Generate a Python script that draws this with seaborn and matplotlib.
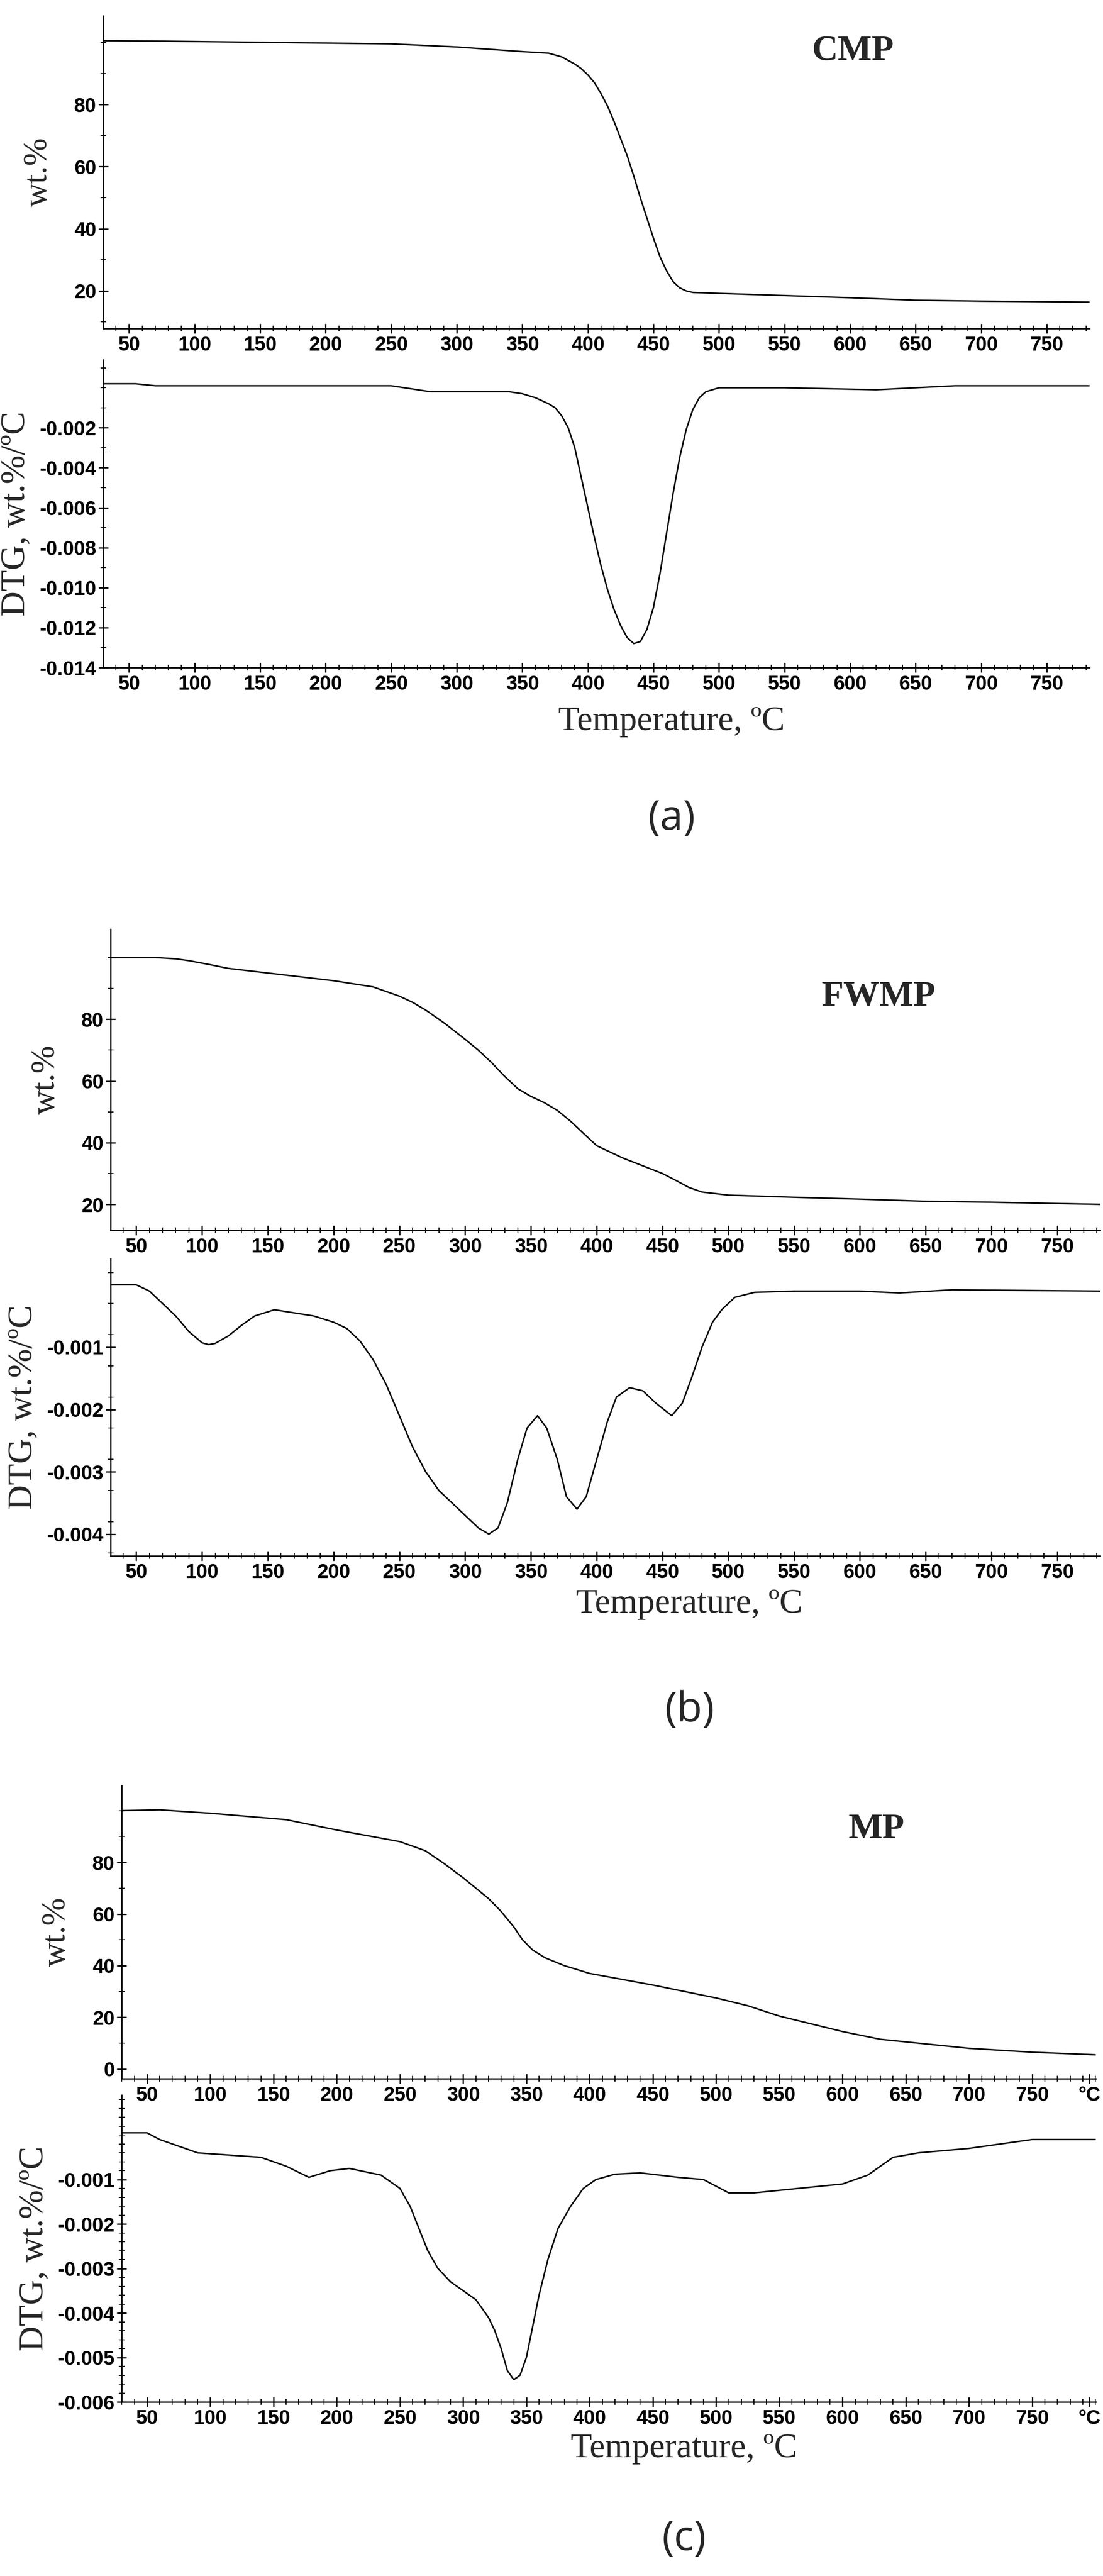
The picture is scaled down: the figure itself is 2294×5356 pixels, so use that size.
import numpy as np
import pandas as pd
import matplotlib
matplotlib.use("Agg")
import matplotlib.pyplot as plt
import seaborn as sns
from matplotlib.ticker import MultipleLocator, FixedLocator

sns.set_theme(style="ticks")
plt.rcParams['font.family'] = ['Liberation Sans', 'DejaVu Sans']

# ---- data ----
cmp_wt_T = [30, 70, 150, 250, 300, 350, 370, 380, 390, 395, 400, 405, 410, 415, 420, 425, 430, 435, 440, 445, 450, 455,
            460, 465, 470, 475, 480, 500, 550, 600, 650, 700, 783]
cmp_wt_v = [100.5, 100.4, 100, 99.5, 98.5, 97, 96.5, 95.3, 93, 91.5, 89.5, 87, 83.5, 79.5, 74.5, 69, 63.5, 57, 50, 43.5, 37, 31,
            26.5, 23, 21, 20, 19.5, 19.2, 18.5, 17.8, 17, 16.7, 16.4]
cmp_dtg_T = [30, 55, 70, 250, 280, 340, 350, 360, 370, 375, 380, 385, 390, 395, 400, 405, 410, 415, 420, 425, 430, 435, 440,
             445, 450, 455, 460, 465, 470, 475, 480, 485, 490, 500, 550, 620, 680, 783]
cmp_dtg_v = [0.0002, 0.0002, 0.0001, 0.0001, -0.0002, -0.0002, -0.0003, -0.0005, -0.0008, -0.001, -0.0014, -0.002, -0.003,
             -0.0045, -0.006, -0.0075, -0.0089, -0.0101, -0.0111, -0.0119, -0.0125, -0.0128, -0.0127, -0.0121, -0.011,
             -0.0093, -0.0073, -0.0053, -0.0035, -0.0021, -0.0011, -0.0005, -0.0002, 0.0, 0.0, -0.0001, 0.0001, 0.0001]

fw_wt_T = [30, 65, 80, 90, 105, 120, 150, 200, 230, 250, 260, 270, 285, 300, 310, 320, 330, 340, 350, 360, 370, 380, 390, 400,
           410, 420, 435, 450, 460, 470, 480, 500, 550, 600, 650, 700, 783]
fw_wt_v = [100, 100, 99.6, 99, 97.8, 96.5, 95, 92.5, 90.5, 87.5, 85.5, 83, 78.5, 73.5, 70, 66, 61.5, 57.5, 55, 53, 50.5, 47,
           43, 39, 37, 35, 32.5, 30, 27.8, 25.5, 24, 23, 22.3, 21.7, 21, 20.7, 20]
fw_dtg_T = [30, 50, 60, 70, 80, 90, 100, 105, 110, 120, 130, 140, 155, 170, 185, 200, 210, 220, 230, 240, 250, 260, 270, 280,
            290, 300, 310, 318, 325, 332, 340, 347, 355, 362, 370, 377, 385, 392, 400, 408, 415, 425, 435, 445, 457, 465,
            472, 480, 488, 495, 505, 520, 550, 600, 630, 670, 783]
fw_dtg_v = [0, 0, -0.0001, -0.0003, -0.0005, -0.00075, -0.00093, -0.00096, -0.00094, -0.00082, -0.00065, -0.0005, -0.0004,
            -0.00045, -0.0005, -0.0006, -0.0007, -0.0009, -0.0012, -0.0016, -0.0021, -0.0026, -0.003, -0.0033, -0.0035,
            -0.0037, -0.0039, -0.004, -0.0039, -0.0035, -0.0028, -0.0023, -0.0021, -0.0023, -0.0028, -0.0034, -0.0036,
            -0.0034, -0.0028, -0.0022, -0.0018, -0.00165, -0.0017, -0.0019, -0.0021, -0.0019, -0.0015, -0.001, -0.0006,
            -0.0004, -0.0002, -0.00012, -0.0001, -0.0001, -0.00013, -0.00008, -0.0001]

mp_wt_T = [30, 60, 100, 160, 200, 250, 270, 285, 300, 310, 320, 330, 340, 347, 355, 365, 380, 400, 450, 500, 525, 550, 575,
           600, 630, 700, 750, 800]
mp_wt_v = [100, 100.3, 99, 96.5, 92.5, 88, 84.5, 79.5, 74, 70, 66, 61, 55, 50, 46, 43, 40, 37, 32.5, 27.5, 24.5, 20.5, 17.5,
           14.5, 11.5, 8, 6.5, 5.5]
mp_dtg_T = [30, 50, 60, 90, 140, 160, 178, 195, 210, 235, 250, 258, 265, 272, 280, 290, 300, 310, 320, 325, 330, 335, 340,
            345, 350, 355, 360, 367, 375, 385, 395, 405, 420, 440, 470, 490, 510, 530, 600, 620, 640, 660, 700, 750, 800]
mp_dtg_v = [0.00005, 0.00005, -0.0001, -0.0004, -0.0005, -0.0007, -0.00095, -0.0008, -0.00075, -0.0009, -0.0012, -0.0016,
            -0.0021, -0.0026, -0.003, -0.0033, -0.0035, -0.0037, -0.0041, -0.0044, -0.0048, -0.0053, -0.0055, -0.0054,
            -0.005, -0.0043, -0.0036, -0.0028, -0.0021, -0.0016, -0.0012, -0.001, -0.00088, -0.00085, -0.00095, -0.001,
            -0.0013, -0.0013, -0.0011, -0.0009, -0.0005, -0.0004, -0.0003, -0.0001, -0.0001]

x_ticks = [50, 100, 150, 200, 250, 300, 350, 400, 450, 500, 550, 600, 650, 700, 750]

W, H = 2294, 5356
fig = plt.figure(figsize=(W / 100, H / 100), dpi=100)

def add_ax(x0, x1, y0, y1):
    return fig.add_axes([x0 / W, 1 - y1 / H, (x1 - x0) / W, (y1 - y0) / H])

serif = ['Liberation Serif', 'DejaVu Serif']
tickfam = ['Liberation Sans Narrow', 'Liberation Sans', 'DejaVu Sans']

def style(ax, xlim, ylim, ymaj, ymin, yfmt, deg=False):
    ax.set_xlim(*xlim)
    ax.set_ylim(*ylim)
    sns.despine(ax=ax)
    for s in ['left', 'bottom']:
        ax.spines[s].set_linewidth(2)
        ax.spines[s].set_color('black')
    ticks = list(x_ticks) + ([795] if deg else [])
    labels = [str(t) for t in x_ticks] + (['°C'] if deg else [])
    ax.set_xticks(ticks)
    ax.set_xticklabels(labels)
    ax.xaxis.set_minor_locator(MultipleLocator(10))
    ax.set_yticks(ymaj)
    ax.set_yticklabels([yfmt(v) for v in ymaj])
    ax.yaxis.set_minor_locator(FixedLocator(ymin))
    ax.tick_params(which='major', direction='inout', length=14, width=2, colors='black')
    ax.tick_params(which='minor', direction='inout', length=8, width=1.5, colors='black')
    for lab in ax.get_xticklabels() + ax.get_yticklabels():
        lab.set_fontfamily(tickfam)
        lab.set_fontweight('bold')
        lab.set_fontsize(30)
    ax.set_xlabel('')
    ax.set_ylabel('')
    ax.patch.set_alpha(0)

def line(ax, T, v):
    sns.lineplot(x=T, y=v, ax=ax, color='black', linewidth=2.2, estimator=None, sort=False)

wfmt = lambda v: f"{v:d}"
dfmt = lambda v: f"{v:.3f}"

panels = [
    dict(T1=cmp_wt_T, v1=cmp_wt_v, T2=cmp_dtg_T, v2=cmp_dtg_v, name='CMP', tag='(a)',
         x=(215, 2266), top=(33, 683), bot=(748, 1388), xl=(30.4, 782.7), yl1=(7.9, 108.5),
         yl2=(-0.014, 0.0014), ym2=[-0.002, -0.004, -0.006, -0.008, -0.010, -0.012, -0.014],
         ymin1=list(range(10, 110, 10)), ymin2=list(np.arange(-0.014, 0.0011, 0.001)),
         ym1=[20, 40, 60, 80], txy=(0.76, 0.885), tlab=1500, tagy=1703, tagx=1397, deg=False),
    dict(T1=fw_wt_T, v1=fw_wt_v, T2=fw_dtg_T, v2=fw_dtg_v, name='FWMP', tag='(b)',
         x=(230, 2288), top=(1932, 2558), bot=(2617, 3235), xl=(30.5, 782.6), yl1=(11.6, 109.2),
         yl2=(-0.00435, 0.00042), ym2=[-0.001, -0.002, -0.003, -0.004],
         ymin1=list(range(20, 110, 10)), ymin2=list(np.arange(-0.0043, 0.0003, 0.0005)),
         ym1=[20, 40, 60, 80], txy=(0.776, 0.775), tlab=3336, tagy=3557, tagx=1434, deg=False),
    dict(T1=mp_wt_T, v1=mp_wt_v, T2=mp_dtg_T, v2=mp_dtg_v, name='MP', tag='(c)',
         x=(253, 2279), top=(3712, 4322), bot=(4356, 4994), xl=(29.9, 800.3), yl1=(-3.75, 109.8),
         yl2=(-0.006, 0.0009), ym2=[-0.001, -0.002, -0.003, -0.004, -0.005, -0.006],
         ymin1=list(range(0, 110, 10)), ymin2=list(np.arange(-0.006, 0.0009, 0.0002)),
         ym1=[0, 20, 40, 60, 80], txy=(0.775, 0.85), tlab=5092, tagy=5280, tagx=1423, deg=True),
]

for p in panels:
    a1 = add_ax(p['x'][0], p['x'][1], *p['top'])
    line(a1, p['T1'], p['v1'])
    style(a1, p['xl'], p['yl1'], p['ym1'], p['ymin1'], wfmt, p['deg'])
    a1.set_ylabel('wt.%', family=serif, fontsize=50, labelpad=30)
    a1.text(p['txy'][0], p['txy'][1], p['name'], transform=a1.transAxes, family=serif,
            fontweight='bold', fontsize=54, ha='center', va='center')
    a2 = add_ax(p['x'][0], p['x'][1], *p['bot'])
    line(a2, p['T2'], p['v2'])
    style(a2, p['xl'], p['yl2'], p['ym2'], p['ymin2'], dfmt, p['deg'])
    a2.set_ylabel('DTG, wt.%/ºC', family=serif, fontsize=52, labelpad=12)
    fig.text(p['tagx'] / W, 1 - p['tlab'] / H, 'Temperature, ºC', family=serif, fontsize=52,
             ha='center', va='center')
    fig.text(p['tagx'] / W, 1 - p['tagy'] / H, p['tag'], family=['Open Sans', 'DejaVu Sans'],
             fontsize=62, ha='center', va='center')

fig.savefig('out.png', dpi=100, facecolor='white')
